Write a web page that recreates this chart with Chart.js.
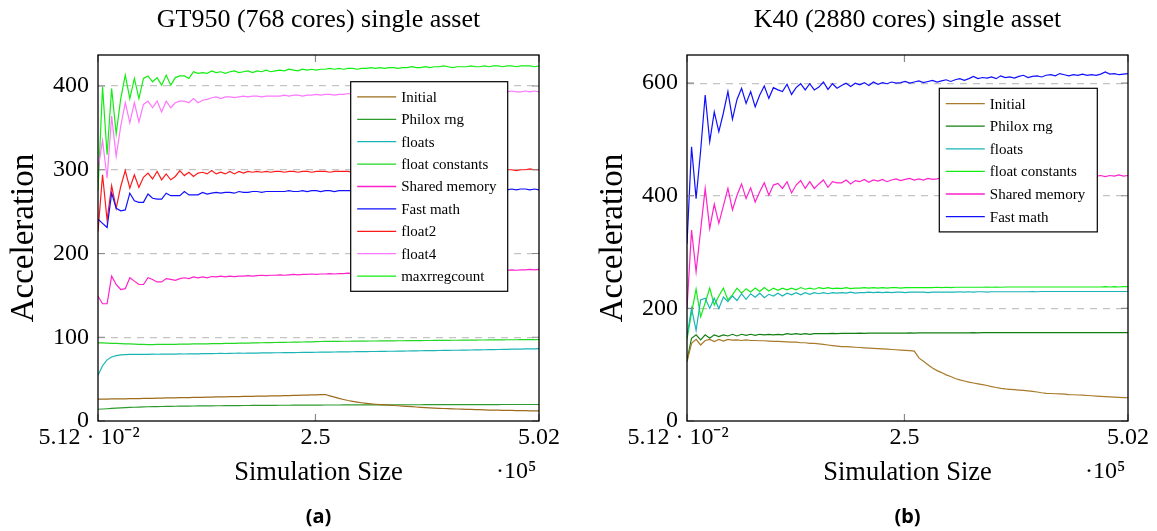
<!DOCTYPE html>
<html>
<head>
<meta charset="utf-8">
<script src="https://cdn.jsdelivr.net/npm/chart.js@4.4.1/dist/chart.umd.min.js"></script>
<style>
  body { margin: 0; background: #fff; }
  #page { position: relative; width: 1157px; height: 531px; overflow: hidden; background: #fff; font-family: "Liberation Serif", serif; }
  .panel { position: absolute; top: 0; width: 578px; height: 531px; }
  .panel canvas { position: absolute; left: 0; top: 0; }
  .ttl { position: absolute; top: 4px; left: 98px; width: 441px; text-align: center; font-size: 26px; line-height: 30px; white-space: nowrap; }
  .mult { position: absolute; top: 455px; left: 496px; font-size: 24px; line-height: 30px; }
  .cap { position: absolute; top: 502px; left: 98px; width: 441px; text-align: center; font: bold 20px "Noto Sans", sans-serif; }
</style>
</head>
<body>
<div id="page">
  <div class="panel" style="left:0">
    <canvas id="gt" width="578" height="531"></canvas>
    <div class="ttl">GT950 (768 cores) single asset</div>
    <div class="mult">·10⁵</div>
    <div class="cap">(a)</div>
  </div>
  <div class="panel" style="left:589px">
    <canvas id="k40" width="578" height="531"></canvas>
    <div class="ttl">K40 (2880 cores) single asset</div>
    <div class="mult">·10⁵</div>
    <div class="cap">(b)</div>
  </div>
</div>
<script>
// simulation sizes (number of paths), 5120 step
const simSize = [
  5120, 10240, 15360, 20480, 25600, 30720, 35840, 40960, 46080, 51200,
  56320, 61440, 66560, 71680, 76800, 81920, 87040, 92160, 97280, 102400,
  107520, 112640, 117760, 122880, 128000, 133120, 138240, 143360, 148480, 153600,
  158720, 163840, 168960, 174080, 179200, 184320, 189440, 194560, 199680, 204800,
  209920, 215040, 220160, 225280, 230400, 235520, 240640, 245760, 250880, 256000,
  261120, 266240, 271360, 276480, 281600, 286720, 291840, 296960, 302080, 307200,
  312320, 317440, 322560, 327680, 332800, 337920, 343040, 348160, 353280, 358400,
  363520, 368640, 373760, 378880, 384000, 389120, 394240, 399360, 404480, 409600,
  414720, 419840, 424960, 430080, 435200, 440320, 445440, 450560, 455680, 460800,
  465920, 471040, 476160, 481280, 486400, 491520, 496640, 501760
];
const xTickValues = [5120, 250000, 501760];
const xTickLabels = ['5.12 · 10⁻²   ', '2.5', '5.02'];

// ---- GT950 ----
const gtNames = ['Initial', 'Philox rng', 'floats', 'float constants', 'Shared memory', 'Fast math', 'float2', 'float4', 'maxrregcount'];
const gtTicks = [0, 100, 200, 300, 400];

const gtInitial = [
  26, 26, 26.2, 26.3, 26.3, 26.4, 26.5, 26.6, 26.7, 26.8,
  26.9, 27, 27.1, 27.2, 27.3, 27.5, 27.6, 27.7, 27.8, 27.9,
  28, 28.1, 28.2, 28.3, 28.4, 28.6, 28.7, 28.8, 28.9, 29,
  29.1, 29.2, 29.3, 29.4, 29.5, 29.6, 29.7, 29.8, 29.9, 30,
  30.1, 30.3, 30.4, 30.6, 30.7, 30.9, 31, 31.2, 31.3, 31.5,
  31.6, 30, 28.5, 27, 25.7, 24.5, 23.5, 22.6, 21.8, 21.1,
  20.5, 20, 19.6, 19.2, 18.9, 18.5, 18.2, 17.8, 17.5, 17.1,
  16.7, 16.3, 16, 15.7, 15.4, 15.1, 14.9, 14.7, 14.5, 14.3,
  14.1, 13.9, 13.8, 13.6, 13.5, 13.3, 13.1, 13, 12.9, 12.8,
  12.7, 12.6, 12.5, 12.4, 12.3, 12.2, 12.1, 12
];
const gtPhilox = [
  14, 14.3, 14.6, 15, 15.3, 15.6, 15.9, 16.2, 16.4, 16.6,
  16.8, 17, 17.1, 17.2, 17.3, 17.4, 17.5, 17.6, 17.7, 17.8,
  17.8, 17.9, 18, 18, 18.1, 18.1, 18.2, 18.2, 18.3, 18.3,
  18.4, 18.4, 18.5, 18.5, 18.6, 18.6, 18.6, 18.7, 18.7, 18.7,
  18.8, 18.8, 18.8, 18.9, 18.9, 18.9, 19, 19, 19, 19,
  19.1, 19.1, 19.1, 19.1, 19.2, 19.2, 19.2, 19.2, 19.2, 19.3,
  19.3, 19.3, 19.3, 19.3, 19.3, 19.4, 19.4, 19.4, 19.4, 19.4,
  19.4, 19.4, 19.5, 19.5, 19.5, 19.5, 19.5, 19.5, 19.5, 19.5,
  19.6, 19.6, 19.6, 19.6, 19.6, 19.6, 19.6, 19.6, 19.6, 19.7,
  19.7, 19.7, 19.7, 19.7, 19.7, 19.7, 19.7, 19.7
];
const gtFloats = [
  54.6, 66, 73, 76.5, 78, 79, 79.3, 79.5, 79.6, 79.6,
  79.7, 79.6, 79.8, 79.7, 79.9, 79.8, 80, 79.9, 80.1, 80,
  80.2, 80.3, 80.2, 80.4, 80.5, 80.4, 80.6, 80.7, 80.6, 80.8,
  80.9, 81, 80.9, 81.1, 81.2, 81.1, 81.3, 81.4, 81.3, 81.5,
  81.5, 81.6, 81.7, 81.7, 81.8, 81.9, 82, 82, 82.1, 82.2,
  82.3, 82.3, 82.4, 82.5, 82.5, 82.6, 82.7, 82.8, 82.8, 82.9,
  83, 83, 83.1, 83.2, 83.3, 83.3, 83.4, 83.5, 83.6, 83.7,
  83.8, 83.9, 84, 84.1, 84.1, 84.2, 84.3, 84.4, 84.5, 84.5,
  84.6, 84.7, 84.8, 84.9, 85, 85.1, 85.2, 85.3, 85.4, 85.5,
  85.6, 85.7, 85.8, 85.9, 86, 86.1, 86.2, 86.3
];
const gtFloatConst = [
  93.3, 93.2, 93, 92.8, 92.6, 92.4, 92.2, 92, 91.8, 91.6,
  91.5, 91.3, 91.3, 91.4, 91.4, 91.5, 91.6, 91.6, 91.7, 91.8,
  91.9, 92, 92.1, 92.2, 92.2, 92.3, 92.4, 92.5, 92.6, 92.7,
  92.8, 92.9, 93, 93.1, 93.2, 93.3, 93.4, 93.5, 93.6, 93.7,
  93.8, 93.9, 94, 94.1, 94.2, 94.3, 94.4, 94.5, 94.7, 94.9,
  95, 95, 95.1, 95.1, 95.2, 95.2, 95.3, 95.3, 95.4, 95.4,
  95.5, 95.5, 95.6, 95.6, 95.7, 95.7, 95.8, 95.8, 95.9, 95.9,
  96, 96, 96.1, 96.1, 96.2, 96.2, 96.3, 96.3, 96.4, 96.4,
  96.5, 96.5, 96.6, 96.6, 96.7, 96.7, 96.8, 96.8, 96.9, 96.9,
  97, 97, 97, 97.1, 97.1, 97.2, 97.2, 97.3
];
const gtShared = [
  149, 140, 140, 173, 163, 157, 158, 171, 167, 163,
  163, 171, 169, 166, 166, 170, 169, 168, 170, 171,
  170, 172, 171, 172, 171, 172.5, 172, 173, 172, 173,
  172.5, 173, 173, 173.5, 173, 173.5, 174, 173.5, 174, 174,
  174.5, 174, 174.5, 175, 174.5, 175, 175, 175.5, 175, 175.5,
  175.5, 176, 175.5, 176, 176, 176.5, 176, 176.5, 176.5, 177,
  176.5, 177, 177, 177.5, 177, 177.5, 177.5, 178, 177.5, 178,
  178, 178, 178.5, 178, 178.5, 178.5, 179, 178.5, 179, 179,
  179, 179.5, 179, 179.5, 179.5, 180, 179.5, 180, 180, 180,
  180, 180.5, 180, 180.5, 180.5, 181, 180.5, 181
];
const gtFast = [
  241, 236, 231, 272, 254, 251, 252, 272, 263, 261,
  261, 271, 266, 265, 265, 272, 269, 269, 269, 274,
  270, 270, 270, 273, 271, 272, 273, 272, 273, 273,
  272, 274, 273, 273, 274, 274, 273, 274, 274, 274,
  274, 274, 275, 274, 274, 275, 274, 275, 275, 274,
  275, 275, 274, 275, 275, 275, 275, 274, 275, 275,
  275, 275, 276, 275, 275, 275, 276, 275, 275, 276,
  276, 275, 276, 276, 275, 276, 276, 276, 275, 276,
  276, 276, 276, 277, 276, 276, 277, 276, 276, 277,
  276, 277, 276, 277, 277, 276, 277, 276
];
const gtFloat2 = [
  226, 294, 240, 281, 254, 280, 299, 278, 294, 279,
  291, 296, 289, 298, 288, 295, 288, 292, 299, 293,
  297, 292, 296, 297, 295, 299, 295, 297, 295, 298,
  295, 298, 296, 298, 297, 298, 297, 298, 297, 298,
  298, 297, 298, 298, 297, 298, 298, 297, 298, 298,
  298, 297, 298, 298, 298, 298, 297, 298, 298, 298,
  298, 299, 298, 298, 299, 298, 299, 298, 299, 299,
  298, 299, 299, 298, 299, 299, 299, 298, 299, 299,
  299, 299, 300, 299, 299, 300, 299, 300, 300, 299,
  300, 300, 299, 300, 300, 301, 300, 300
];
const gtFloat4 = [
  300, 335, 290, 364, 316, 352, 380, 356, 380, 357,
  378, 382, 374, 382, 369, 382, 374, 380, 382, 382,
  380, 385, 380, 383, 384, 386, 387, 385, 387, 387,
  386, 387, 388, 387, 388, 388, 387, 388, 388, 388,
  388, 389, 388, 389, 389, 388, 389, 389, 390, 389,
  390, 390, 389, 390, 390, 391, 390, 390, 391, 390,
  391, 391, 390, 391, 391, 391, 392, 391, 391, 392,
  391, 392, 392, 391, 392, 392, 392, 392, 393, 392,
  392, 393, 392, 393, 393, 392, 393, 393, 393, 393,
  393, 394, 393, 393, 394, 393, 394, 393
];
const gtMaxreg = [
  275, 399, 318, 397, 343, 385, 413, 385, 409, 385,
  409, 412, 405, 410, 401, 413, 401, 410, 412, 412,
  409, 417, 415, 416, 415, 418, 416, 417, 415, 417,
  418, 416, 417, 418, 416, 418, 417, 419, 417, 418,
  419, 418, 420, 419, 418, 420, 419, 420, 419, 420,
  420, 421, 420, 421, 420, 421, 421, 420, 421, 421,
  422, 421, 422, 421, 422, 422, 421, 422, 422, 423,
  422, 422, 423, 422, 423, 423, 424, 423, 422, 423,
  423, 423, 424, 423, 423, 424, 423, 424, 424, 423,
  424, 424, 423, 424, 424, 424, 423, 424
];

// ---- K40 ----
const k40Names = ['Initial', 'Philox rng', 'floats', 'float constants', 'Shared memory', 'Fast math'];
const k40Ticks = [0, 200, 400, 600];

const k40Initial = [
  105, 138, 145, 135, 143, 145, 141, 145, 142, 145,
  143.5, 144, 143, 144, 143, 143, 142.5, 142.5, 142, 141.5,
  141.5, 141, 140.5, 140, 140, 139, 139, 138, 138, 137,
  136, 135, 134, 133, 132, 132, 131.5, 131, 130.5, 130,
  129.5, 129, 128.5, 128, 127.5, 127, 126.5, 126, 125.5, 125,
  124, 112, 106, 100, 94, 89.5, 86, 82, 79, 75.5,
  73, 71, 69, 67.5, 66, 64.5, 63, 61, 59.5, 58,
  57, 56.3, 55.6, 55, 54.3, 53.5, 52.5, 51.5, 50.2, 49.2,
  48.8, 48.4, 48, 47.6, 47, 46.6, 46.2, 45.8, 45.3, 44.8,
  44.3, 43.8, 43.3, 42.8, 42.4, 42, 41.6, 41.3
];
const k40Philox = [
  108, 147, 153, 144, 153, 147, 153, 150, 153, 151,
  154, 151, 154, 152, 154, 152, 154, 153, 154, 153,
  154, 153, 155, 154, 155, 154, 155, 154, 155, 155,
  155, 155, 155.5, 155, 155.5, 155.5, 155.5, 155.5, 156, 155.5,
  156, 156, 156, 156, 156, 156, 156, 156, 156, 156.5,
  156, 156.5, 156.5, 156.5, 156.5, 156.5, 156.5, 156.5, 156.5, 156.5,
  156.5, 156.5, 156.5, 157, 156.5, 157, 157, 157, 157, 157,
  157, 157, 157, 157, 157, 157, 157, 157, 157, 157,
  157, 157, 157, 157, 157, 157, 157, 157, 157, 157,
  157, 157, 157, 157, 157, 157, 157, 157
];
const k40Floats = [
  150, 200, 161, 215, 218, 200, 218, 200, 220, 212,
  222, 214, 226, 216, 226, 220, 227, 219, 225, 222,
  227, 222, 227, 224, 228, 224, 228, 225, 228, 226,
  228, 226, 228, 227, 228, 227, 229, 227, 228, 228,
  229, 228, 229, 228, 229, 228, 229, 229, 228, 229,
  229, 229, 229, 228, 229, 229, 229, 229, 229, 229,
  229.5, 229, 229.5, 229, 229.5, 229.5, 229, 229.5, 229.5, 229.5,
  229.5, 229.5, 229.5, 229.5, 229.5, 229.5, 230, 229.5, 230, 230,
  230, 230, 230, 230, 230, 230, 230, 230, 230, 230,
  230, 230, 230, 230, 230, 230, 230, 230
];
const k40FloatConst = [
  145, 192, 234, 185, 210, 236, 206, 222, 236, 215,
  224, 236, 227, 235, 229, 236, 230, 237, 231, 236,
  232, 236, 233, 236, 233, 237, 234, 236, 234, 237,
  235, 237, 235, 236, 235, 237, 235, 236, 236, 237,
  236, 237, 236, 237, 236, 237, 237, 236, 237, 237,
  237, 237, 237, 237, 237, 237.5, 237, 237.5, 237, 237.5,
  237.5, 237.5, 237.5, 237.5, 237.5, 237.5, 238, 237.5, 238, 237.5,
  238, 238, 238, 238, 238, 238, 238, 238, 238, 238,
  238, 238, 238, 238, 238, 238, 238, 238, 238, 238,
  238, 238, 238.5, 238, 238.5, 238, 238.5, 238.5
];
const k40Shared = [
  200, 339, 265, 339, 413, 342, 385, 351, 382, 413,
  375, 401, 421, 395, 414, 389, 407, 423, 401, 419,
  422, 413, 425, 405, 419, 427, 413, 425, 413, 421,
  428, 415, 425, 423, 423, 428, 421, 427, 425, 429,
  424, 428, 426, 429, 425, 428, 430, 427, 429, 431,
  428, 430, 428, 431, 429, 430, 432, 429, 431, 430,
  432, 430, 431, 433, 430, 432, 431, 433, 431, 432,
  434, 431, 433, 432, 434, 432, 433, 435, 432, 434,
  433, 435, 433, 434, 436, 433, 435, 434, 436, 434,
  435, 436, 434, 436, 435, 437, 435, 436
];
const k40Fast = [
  315, 487, 395, 480, 579, 496, 549, 514, 547, 585,
  536, 571, 591, 564, 585, 558, 579, 595, 573, 592,
  588, 585, 598, 580, 592, 599, 588, 599, 588, 593,
  602, 589, 599, 591, 596, 600, 594, 600, 597, 601,
  596, 602, 598, 601, 599, 602, 600, 601, 603, 600,
  602, 604, 601, 603, 605, 602, 604, 606, 603, 606,
  608, 605, 608, 612, 608, 610, 609, 611, 608, 613,
  610, 611, 609, 612, 614, 610, 612, 613, 611, 614,
  615, 613, 617, 615, 613, 615, 614, 616, 614, 615,
  614, 616, 620, 616, 617, 615, 616, 617
];

const gtColors = ['#9c6b1c', '#2e9a2e', '#19b4b4', '#22d822', '#ff22cc', '#1010ff', '#ff1a1a', '#ff77ff', '#11ee11'];
const k40Colors = ['#a87a2a', '#137f13', '#19b4b4', '#11ee11', '#ff22cc', '#1010ff'];

const serif = 'Liberation Serif';

// frame, inner tick marks and boxed legend, pgfplots style
const framePlugin = {
  id: 'frame',
  afterDatasetsDraw(chart) {
    const { ctx, chartArea: a, scales } = chart;
    ctx.save();
    ctx.strokeStyle = '#8a8a8a';
    ctx.lineWidth = 1.2;
    ctx.beginPath();
    scales.y.ticks.forEach(t => {
      const y = scales.y.getPixelForValue(t.value);
      ctx.moveTo(a.left, y); ctx.lineTo(a.left + 7, y);
      ctx.moveTo(a.right - 7, y); ctx.lineTo(a.right, y);
    });
    scales.x.ticks.forEach(t => {
      const x = scales.x.getPixelForValue(t.value);
      ctx.moveTo(x, a.bottom); ctx.lineTo(x, a.bottom - 7);
      ctx.moveTo(x, a.top); ctx.lineTo(x, a.top + 7);
    });
    ctx.stroke();
    ctx.strokeStyle = '#000';
    ctx.lineWidth = 1.3;
    ctx.strokeRect(a.left, a.top, a.width, a.height);
    ctx.restore();
  },
  afterDraw(chart, args, opts) {
    const { ctx, chartArea: a } = chart;
    const ds = chart.data.datasets;
    const x0 = a.left + opts.dx, y0 = a.top + opts.dy;
    const h = ds.length * opts.rowH + 8;
    ctx.save();
    ctx.fillStyle = '#fff';
    ctx.fillRect(x0, y0, opts.width, h);
    ctx.strokeStyle = '#000';
    ctx.lineWidth = 1.2;
    ctx.strokeRect(x0, y0, opts.width, h);
    ctx.font = '15px "' + serif + '"';
    ctx.textBaseline = 'middle';
    ctx.fillStyle = '#000';
    ds.forEach((d, i) => {
      const y = y0 + 4 + opts.rowH * (i + 0.5);
      ctx.strokeStyle = d.borderColor;
      ctx.lineWidth = 1.3;
      ctx.beginPath();
      ctx.moveTo(x0 + 6.5, y); ctx.lineTo(x0 + 45.5, y);
      ctx.stroke();
      ctx.fillText(d.label, x0 + 50.5, y + 1);
    });
    ctx.restore();
  }
};

function buildChart(id, names, series, colors, yMax, yTicks, legendOpts) {
  const datasets = names.map((name, i) => ({
    label: name,
    data: series[i],
    borderColor: colors[i],
    backgroundColor: colors[i],
    borderWidth: 1.2,
    pointRadius: 0,
    tension: 0,
    fill: false
  }));
  return new Chart(document.getElementById(id), {
    type: 'line',
    data: { labels: simSize, datasets },
    options: {
      responsive: false,
      animation: false,
      devicePixelRatio: 1,
      layout: { padding: { top: 55, right: 39, bottom: 40, left: 0 } },
      plugins: {
        legend: { display: false },
        tooltip: { enabled: false },
        frame: legendOpts
      },
      scales: {
        x: {
          type: 'linear',
          min: simSize[0],
          max: simSize[simSize.length - 1],
          afterBuildTicks: s => { s.ticks = xTickValues.map(v => ({ value: v })); },
          afterFit: s => { s.height = 70; },
          grid: { display: false, drawTicks: false },
          border: { display: false },
          ticks: {
            autoSkip: false, maxRotation: 0, padding: 2, color: '#000',
            font: { family: serif, size: 24 },
            callback: (v, i) => xTickLabels[i]
          },
          title: {
            display: true, text: 'Simulation Size', color: '#000',
            font: { family: serif, size: 26.5 }, padding: { top: 0, bottom: 2 }
          }
        },
        y: {
          min: 0,
          max: yMax,
          afterBuildTicks: s => { s.ticks = yTicks.map(v => ({ value: v })); },
          afterFit: s => { s.width = 98; },
          grid: {
            drawTicks: false,
            lineWidth: 1.2,
            color: c => (c.tick && c.tick.value === 0) ? 'rgba(0,0,0,0)' : '#c4c4c4'
          },
          border: { display: false, dash: [7, 6] },
          ticks: { padding: 9, color: '#000', font: { family: serif, size: 24 } },
          title: {
            display: true, text: 'Acceleration', color: '#000',
            font: { family: serif, size: 33 }, padding: { top: 5, bottom: 0 }
          }
        }
      }
    },
    plugins: [framePlugin]
  });
}

buildChart('gt', gtNames,
  [gtInitial, gtPhilox, gtFloats, gtFloatConst, gtShared, gtFast, gtFloat2, gtFloat4, gtMaxreg],
  gtColors, 437, gtTicks, { dx: 252.7, dy: 26.7, width: 157, rowH: 22.4 });

buildChart('k40', k40Names,
  [k40Initial, k40Philox, k40Floats, k40FloatConst, k40Shared, k40Fast],
  k40Colors, 650, k40Ticks, { dx: 252.3, dy: 33.3, width: 158, rowH: 22.6 });
</script>
</body>
</html>
